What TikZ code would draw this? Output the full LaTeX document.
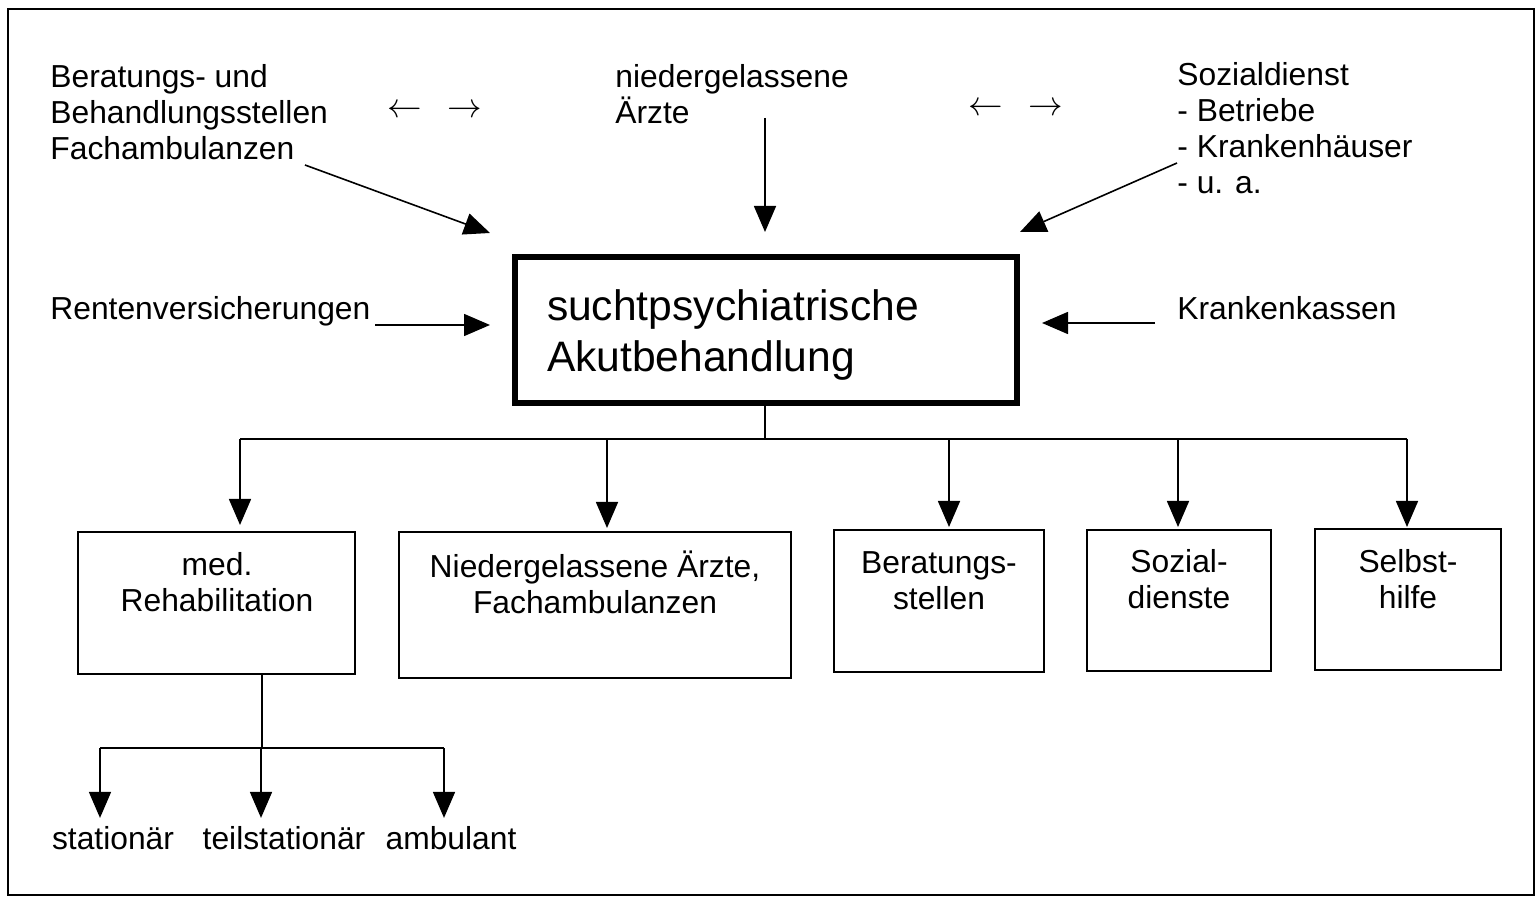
\documentclass[tikz,border=0pt]{standalone}
\usepackage{fontspec}
\setmainfont{Liberation Sans}
\usetikzlibrary{arrows.meta}
\begin{document}
\begin{tikzpicture}[x=0.5pt,y=-0.5pt,
  txt/.style={inner sep=0pt, font=\fontsize{15.9}{18}\selectfont},
  ltxt/.style={txt, anchor=west, align=left},
  ctxt/.style={txt, align=center},
  sym/.style={inner sep=0pt, font=\fontsize{17}{18}\selectfont},
  bigarrow/.style={line width=0.8pt, -{Triangle[width=11pt,length=13pt]}},
  thinline/.style={line width=0.8pt},
  smallbox/.style={draw, line width=1pt, inner sep=0pt}
]
\useasboundingbox (0,0) rectangle (1537,898);
\draw[line width=1pt] (8,9) rectangle (1534,895);

% top texts
\node[ltxt] (ber) at (50,112) {Beratungs- und\\Behandlungsstellen\\Fachambulanzen};
\node[ltxt] (nied) at (615,94) {niedergelassene\\Ärzte};
\node[ltxt] (soz) at (1177,128) {Sozialdienst\\- Betriebe\\- Krankenhäuser\\- u. a.};
\node[sym] (la1) at (405,111) {$\leftarrow$};
\node[sym] (ra1) at (465,111) {$\rightarrow$};
\node[sym] (la2) at (986,109) {$\leftarrow$};
\node[sym] (ra2) at (1046,109) {$\rightarrow$};

\node[ltxt] (rent) at (50,311) {Rentenversicherungen};
\node[ltxt] (kk) at (1177,308) {Krankenkassen};

% main box
\node[draw, line width=3pt, minimum width=251pt, minimum height=73pt,
      inner xsep=16pt, text width=219pt, align=left,
      font=\fontsize{21.3}{25.5}\selectfont] (main) at (766,330)
      {\raisebox{-2.5pt}[\height][\depth]{\parbox{219pt}{suchtpsychiatrische\\Akutbehandlung}}};

% incoming arrows
\coordinate (a1s) at (305,165); \coordinate (a1e) at (490,233);
\coordinate (a2s) at (765,118); \coordinate (a2e) at (765,232);
\coordinate (a3s) at (1177,163); \coordinate (a3e) at (1020,232);
\coordinate (a4s) at (375,325); \coordinate (a4e) at (490,325);
\coordinate (a5s) at (1155,323); \coordinate (a5e) at (1042,323);
\draw[bigarrow] (a1s) -- (a1e);
\draw[bigarrow] (a2s) -- (a2e);
\draw[bigarrow] (a3s) -- (a3e);
\draw[bigarrow] (a4s) -- (a4e);
\draw[bigarrow] (a5s) -- (a5e);

% lower boxes
\node[smallbox, minimum width=138.5pt, minimum height=71pt] (rehab) at (216.5,603) {};
\node[smallbox, minimum width=196pt, minimum height=73pt] (aerzte) at (595,605) {};
\node[smallbox, minimum width=105pt, minimum height=71pt] (berat) at (939,601) {};
\node[smallbox, minimum width=92pt, minimum height=70.5pt] (sozd) at (1179,600.5) {};
\node[smallbox, minimum width=93pt, minimum height=70.5pt] (selbst) at (1408,599.5) {};

\node[ctxt] (rehabt) at (217,582) {med.\\Rehabilitation};
\node[ctxt] (aerztet) at (595,582) {Niedergelassene Ärzte,\\Fachambulanzen};
\node[ctxt] (beratt) at (939,581) {Beratungs-\\stellen};
\node[ctxt] (sozdt) at (1179,579) {Sozial-\\dienste};
\node[ctxt] (selbstt) at (1408,579) {Selbst-\\hilfe};

% distribution tree
\coordinate (b1) at (240,439);
\coordinate (b2) at (607,439);
\coordinate (b3) at (949,439);
\coordinate (b4) at (1178,439);
\coordinate (b5) at (1407,439);
\coordinate (bm) at (765,439);
\draw[thinline] (bm |- main.south) -- (bm);
\draw[thinline] (b1) -- (b5);
\draw[bigarrow, shorten >=3pt] (b1) -- (b1 |- rehab.north);
\draw[bigarrow, shorten >=1.5pt] (b2) -- (b2 |- aerzte.north);
\draw[bigarrow, shorten >=1pt] (b3) -- (b3 |- berat.north);
\draw[bigarrow, shorten >=1pt] (b4) -- (b4 |- sozd.north);
\draw[bigarrow, shorten >=0.5pt] (b5) -- (b5 |- selbst.north);

% rehab subtree
\node[txt] (stat) at (113,838) {stationär};
\node[txt] (teil) at (284,838) {teilstationär};
\node[txt] (amb) at (451,838) {ambulant};
\coordinate (r0) at (262,748);
\coordinate (r1) at (100,748);
\coordinate (r2) at (261,748);
\coordinate (r3) at (444,748);
\draw[thinline] (r0 |- rehab.south) -- (r0);
\draw[thinline] (r1) -- (r3);
\draw[bigarrow, shorten >=4pt] (r1) -- (r1 |- stat.north);
\draw[bigarrow, shorten >=4pt] (r2) -- (r2 |- teil.north);
\draw[bigarrow, shorten >=4pt] (r3) -- (r3 |- amb.north);
\end{tikzpicture}
\end{document}
